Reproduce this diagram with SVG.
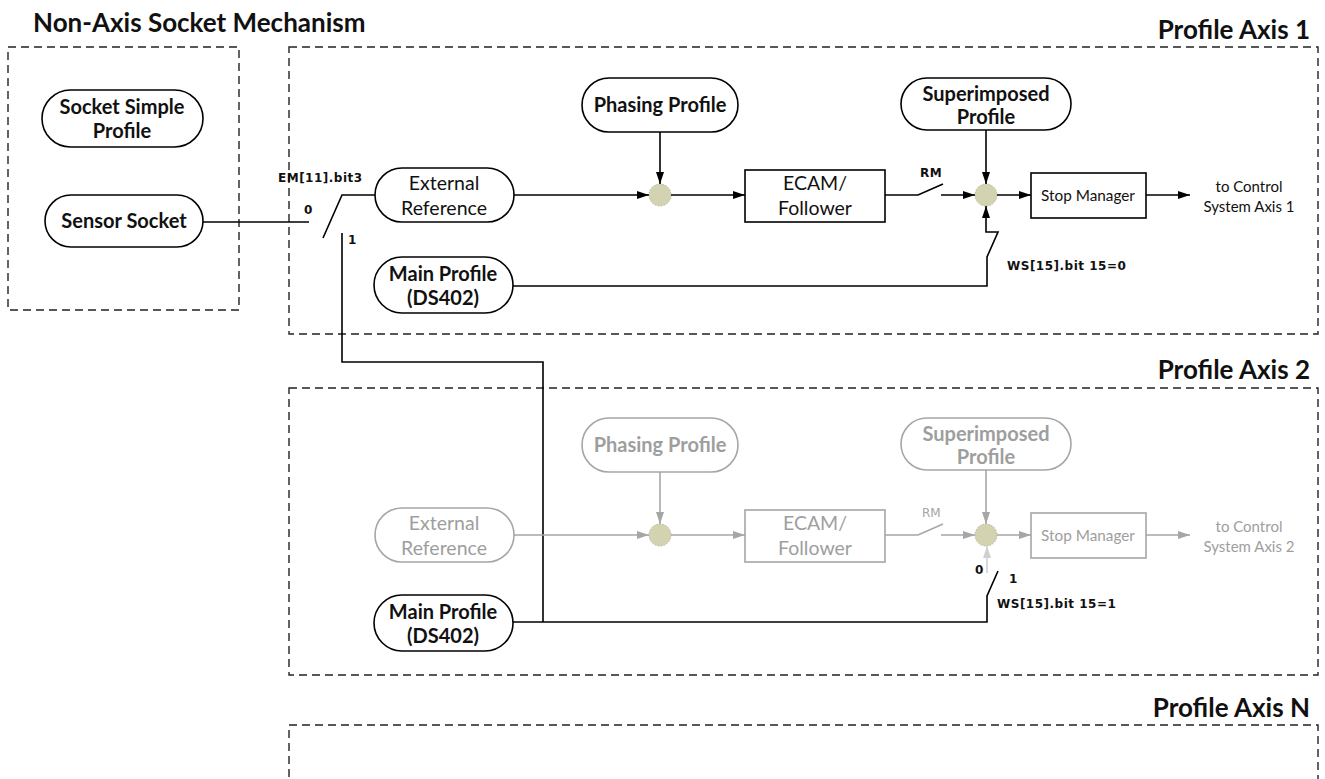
<svg xmlns="http://www.w3.org/2000/svg" width="1325" height="779" viewBox="0 0 1325 779">
<defs>
<marker id="ab" viewBox="0 0 12 8" refX="12" refY="4" markerWidth="12" markerHeight="8" markerUnits="userSpaceOnUse" orient="auto"><path d="M0,0 L12,4 L0,8 Z" fill="#000"/></marker>
<marker id="ag" viewBox="0 0 12 8" refX="12" refY="4" markerWidth="12" markerHeight="8" markerUnits="userSpaceOnUse" orient="auto"><path d="M0,0 L12,4 L0,8 Z" fill="#a6a6a6"/></marker>
<marker id="al" viewBox="0 0 12 8" refX="12" refY="4" markerWidth="12" markerHeight="8" markerUnits="userSpaceOnUse" orient="auto"><path d="M0,0 L12,4 L0,8 Z" fill="#d0d0d0"/></marker>
</defs>
<style>
.dash{fill:none;stroke:#222;stroke-width:1.4;stroke-dasharray:8 5}
.title{font-family:Lato,"Open Sans",sans-serif;font-weight:bold;font-size:26px;fill:#111}
.n{fill:#fff;stroke:#000;stroke-width:1.6}
.ng{fill:#fff;stroke:#a6a6a6;stroke-width:1.6}
.tb{font-family:Lato,"Open Sans",sans-serif;font-weight:bold;font-size:20px;fill:#111;text-anchor:middle}
.tr{font-family:Lato,"Open Sans",sans-serif;font-size:19.5px;fill:#111;text-anchor:middle}
.ts{font-family:Lato,"Open Sans",sans-serif;font-size:15.3px;fill:#111;text-anchor:middle}
.to{font-family:Lato,"Open Sans",sans-serif;font-size:15px;fill:#111;text-anchor:middle}
.g .tb,.g .tr,.g .ts,.g .to{fill:#9e9e9e}
.lbl{font-family:"DejaVu Sans",Verdana,sans-serif;font-weight:bold;font-size:12px;letter-spacing:0.5px;fill:#111}
.w{fill:none;stroke:#000;stroke-width:1.6}
.wg{fill:none;stroke:#a6a6a6;stroke-width:1.6}
.dot{fill:#d4d3b1;stroke:#b8b79a;stroke-width:1;stroke-dasharray:1.5 1.5}
</style>

<g id="frames">
<rect class="dash" x="8" y="47" width="231" height="263"/>
<rect class="dash" x="289" y="47" width="1029" height="287"/>
<rect class="dash" x="289" y="388" width="1029" height="287"/>
<path class="dash" d="M289,790 V725 H1318 V790"/>
<text class="title" x="33" y="32">Non-Axis Socket Mechanism</text>
<text class="title" x="1310" y="39" text-anchor="end">Profile Axis 1</text>
<text class="title" x="1310" y="379" text-anchor="end">Profile Axis 2</text>
<text class="title" x="1310" y="717" text-anchor="end">Profile Axis N</text>
</g>

<g id="socket-simple-profile"><rect class="n" x="42" y="90" width="161" height="57" rx="28.5"/><text class="tb" x="122" y="114">Socket Simple</text><text class="tb" x="122" y="138">Profile</text></g>
<g id="sensor-socket"><rect class="n" x="45" y="195" width="158" height="52" rx="26"/><text class="tb" x="124" y="228">Sensor Socket</text></g>

<g id="axis1">
<g id="ext-ref-1"><rect class="n" x="375" y="168" width="139" height="54" rx="27"/><text class="tr" x="444" y="190">External</text><text class="tr" x="444" y="215">Reference</text></g>
<g id="phasing-1"><rect class="n" x="582" y="78" width="156" height="54" rx="27"/><text class="tb" x="660" y="112">Phasing Profile</text></g>
<g id="sum1-1"><circle class="dot" cx="660" cy="195" r="11"/></g>
<g id="ecam-1"><rect class="n" x="745" y="170" width="140" height="52"/><text class="tr" x="815" y="190">ECAM/</text><text class="tr" x="815" y="215">Follower</text></g>
<g id="superimposed-1"><rect class="n" x="901" y="78" width="170" height="52" rx="26"/><text class="tb" x="986" y="101">Superimposed</text><text class="tb" x="986" y="124">Profile</text></g>
<g id="sum2-1"><circle class="dot" cx="986" cy="195" r="11"/></g>
<g id="stop-1"><rect class="n" x="1031" y="173" width="115" height="45"/><text class="ts" x="1088" y="201">Stop Manager</text></g>
<g id="out-1"><text class="to" x="1249" y="192">to Control</text><text class="to" x="1249" y="212">System Axis 1</text></g>
<g id="main-1"><rect class="n" x="374" y="257" width="139" height="56" rx="28"/><text class="tb" x="443" y="281">Main Profile</text><text class="tb" x="443" y="305">(DS402)</text></g>
</g>

<g id="axis2" class="g">
<g id="ext-ref-2"><rect class="ng" x="375" y="508" width="139" height="54" rx="27"/><text class="tr" x="444" y="530">External</text><text class="tr" x="444" y="555">Reference</text></g>
<g id="phasing-2"><rect class="ng" x="582" y="418" width="156" height="54" rx="27"/><text class="tb" x="660" y="452">Phasing Profile</text></g>
<g id="sum1-2"><circle class="dot" cx="660" cy="535" r="11"/></g>
<g id="ecam-2"><rect class="ng" x="745" y="510" width="140" height="52"/><text class="tr" x="815" y="530">ECAM/</text><text class="tr" x="815" y="555">Follower</text></g>
<g id="superimposed-2"><rect class="ng" x="901" y="418" width="170" height="52" rx="26"/><text class="tb" x="986" y="441">Superimposed</text><text class="tb" x="986" y="464">Profile</text></g>
<g id="sum2-2"><circle class="dot" cx="986" cy="535" r="11"/></g>
<g id="stop-2"><rect class="ng" x="1031" y="513" width="115" height="45"/><text class="ts" x="1088" y="541">Stop Manager</text></g>
<g id="out-2"><text class="to" x="1249" y="532">to Control</text><text class="to" x="1249" y="552">System Axis 2</text></g>
</g>
<g id="main-2"><rect class="n" x="374" y="595" width="139" height="56" rx="28"/><text class="tb" x="443" y="619">Main Profile</text><text class="tb" x="443" y="643">(DS402)</text></g>

<g id="connectors">
<path class="w" d="M203,222 H309"/>
<path class="w" d="M323,238 L342,195 H375"/>
<path class="w" d="M342,233 V362 H543 V622"/>
<text class="lbl" x="278" y="182">EM[11].bit3</text>
<text class="lbl" x="304" y="214">0</text>
<text class="lbl" x="348" y="244">1</text>
<path class="w" d="M514,195 H649" marker-end="url(#ab)"/>
<path class="w" d="M660,132 V184" marker-end="url(#ab)"/>
<path class="w" d="M671,195 H745" marker-end="url(#ab)"/>
<path class="w" d="M885,195 H918 L943,184"/>
<path class="w" d="M941,195 H975" marker-end="url(#ab)"/>
<text class="lbl" x="920" y="177">RM</text>
<path class="w" d="M986,130 V184" marker-end="url(#ab)"/>
<path class="w" d="M997,195 H1031" marker-end="url(#ab)"/>
<path class="w" d="M1146,195 H1190" marker-end="url(#ab)"/>
<path class="w" d="M513,286 H987 V257 L998,232 H986 V206" marker-end="url(#ab)"/>
<text class="lbl" x="1007" y="270">WS[15].bit 15=0</text>
<path class="wg" d="M514,535 H649" marker-end="url(#ag)"/>
<path class="wg" d="M660,472 V524" marker-end="url(#ag)"/>
<path class="wg" d="M671,535 H745" marker-end="url(#ag)"/>
<path class="wg" d="M885,535 H918 L943,524"/>
<path class="wg" d="M941,535 H975" marker-end="url(#ag)"/>
<text x="922" y="517" style="font-family:'DejaVu Sans',Verdana,sans-serif;font-size:12px;fill:#a6a6a6">RM</text>
<path class="wg" d="M986,470 V524" marker-end="url(#ag)"/>
<path class="wg" d="M997,535 H1031" marker-end="url(#ag)"/>
<path class="wg" d="M1146,535 H1190" marker-end="url(#ag)"/>
<path fill="none" stroke="#d0d0d0" stroke-width="1.6" d="M987,573 V546" marker-end="url(#al)"/>
<path class="w" d="M513,622 H987 V596 L998,571"/>
<text class="lbl" x="975" y="574">0</text>
<text class="lbl" x="1009" y="583">1</text>
<text class="lbl" x="997" y="608">WS[15].bit 15=1</text>
</g>
</svg>
